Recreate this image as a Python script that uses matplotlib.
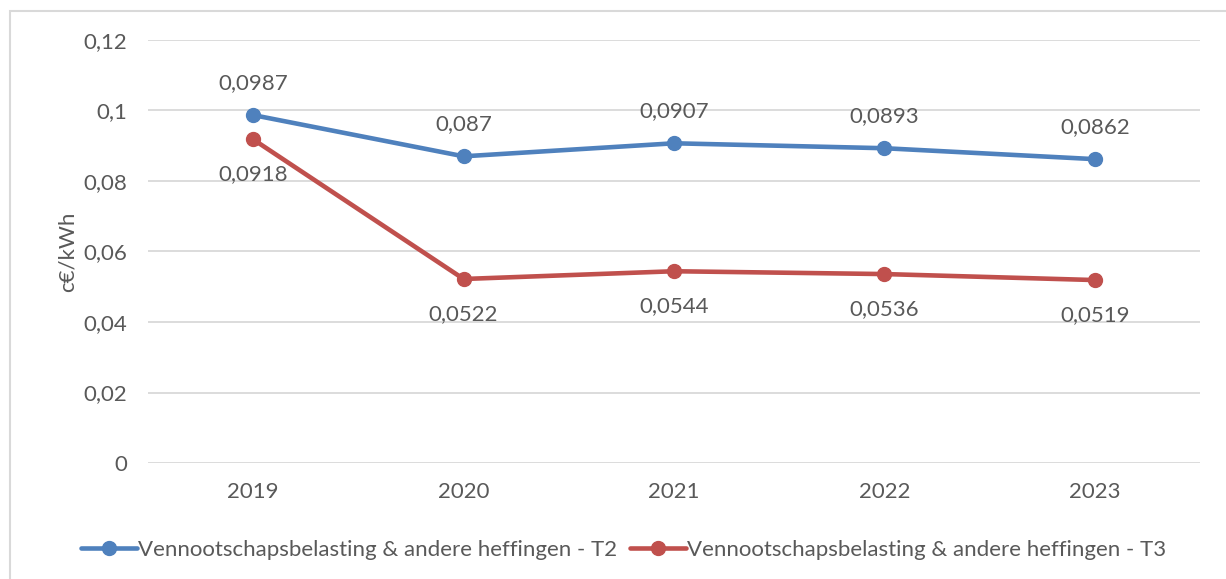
import matplotlib.pyplot as plt
from matplotlib.patches import Rectangle

years = ["2019", "2020", "2021", "2022", "2023"]
t2 = [0.0987, 0.087, 0.0907, 0.0893, 0.0862]
t3 = [0.0918, 0.0522, 0.0544, 0.0536, 0.0519]
t2_labels = ["0,0987", "0,087", "0,0907", "0,0893", "0,0862"]
t3_labels = ["0,0918", "0,0522", "0,0544", "0,0536", "0,0519"]
yticks = [0, 0.02, 0.04, 0.06, 0.08, 0.1, 0.12]
ytick_labels = ["0", "0,02", "0,04", "0,06", "0,08", "0,1", "0,12"]

plt.rcParams['font.family'] = ['Lato', 'DejaVu Sans']
text_col = "#595959"
blue = "#4F81BD"
red = "#C0504D"
fs = 16

fig = plt.figure(figsize=(12.26, 5.79), dpi=100)
ax = fig.add_axes([148 / 1226, 1 - 463 / 579, 1052 / 1226, 423 / 579])

x = range(len(years))
ax.plot(x, t2, color=blue, lw=3.3, marker="o", ms=10, solid_capstyle="round",
        label="Vennootschapsbelasting & andere heffingen - T2")
ax.plot(x, t3, color=red, lw=3.3, marker="o", ms=10, solid_capstyle="round",
        label="Vennootschapsbelasting & andere heffingen - T3")

for i in x:
    ax.annotate(t2_labels[i], (i, t2[i]), xytext=(0, 16), textcoords="offset points",
                ha="center", va="bottom", fontsize=fs, color=text_col)
    ax.annotate(t3_labels[i], (i, t3[i]), xytext=(0, -18), textcoords="offset points",
                ha="center", va="top", fontsize=fs, color=text_col)

ax.set_xlim(-0.5, len(years) - 0.5)
ax.set_ylim(0, 0.12)
ax.set_yticks(yticks)
ax.set_yticklabels(ytick_labels)
ax.set_xticks(list(x))
ax.set_xticklabels(years)
ax.tick_params(length=0, labelsize=fs, labelcolor=text_col, pad=15)
ax.tick_params(axis="x", pad=14)
ax.grid(axis="y", color="#D9D9D9", lw=1.3)
ax.set_axisbelow(True)
for s in ax.spines.values():
    s.set_visible(False)
ax.set_ylabel("c€/kWh", fontsize=fs, color=text_col, labelpad=4)

ax.legend(loc="center", bbox_to_anchor=(0.452, -0.205), ncol=2, frameon=False,
          fontsize=fs, labelcolor=text_col, handlelength=2.5, handletextpad=0.05,
          columnspacing=0.6, borderaxespad=0)

fig.patches.append(Rectangle((10 / 1226, -0.1), 1.2, 1 - 11 / 579 + 0.1,
                             transform=fig.transFigure, fill=False,
                             edgecolor="#D9D9D9", lw=1.5))

fig.savefig("out.png", dpi=100)
